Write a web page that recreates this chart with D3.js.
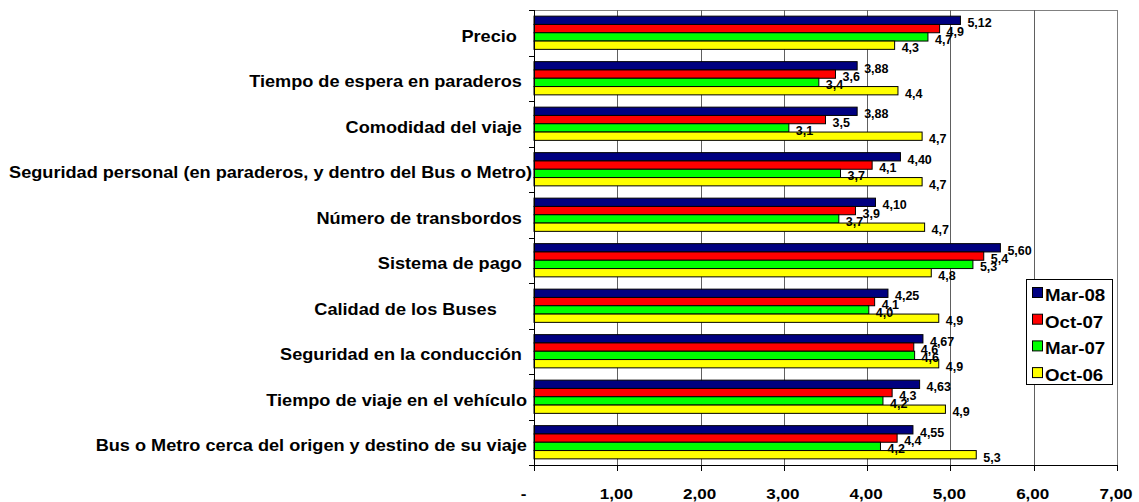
<html lang="es">
<head>
<meta charset="UTF-8">
<title>Evaluación</title>
<style>
  body { margin: 0; background: #fff; }
  text { font-family: "Liberation Sans", Arial, sans-serif; font-weight: bold; fill: #000; }
</style>
</head>
<body>
<svg id="svgId"></svg>
<script src="https://cdn.jsdelivr.net/npm/d3@7"></script>
<script>

    // Data (top category first)
    // trailing spaces are part of the original labels
    const categories = [
        'Precio   ',
        'Tiempo de espera en paraderos  ',
        'Comodidad del viaje  ',
        'Seguridad personal (en paraderos, y dentro del Bus o Metro)',
        'Número de transbordos  ',
        'Sistema de pago  ',
        'Calidad de los Buses       ',
        'Seguridad en la conducción  ',
        'Tiempo de viaje en el vehículo ',
        'Bus o Metro cerca del origen y destino de su viaje '
    ];
    const seriesNames = ['Mar-08', 'Oct-07', 'Mar-07', 'Oct-06'];
    const mar08 = [5.12, 3.88, 3.88, 4.40, 4.10, 5.60, 4.25, 4.67, 4.63, 4.55];
    const oct07 = [4.87, 3.62, 3.50, 4.06, 3.86, 5.40, 4.09, 4.56, 4.30, 4.36];
    const mar07 = [4.73, 3.42, 3.06, 3.68, 3.66, 5.27, 4.02, 4.57, 4.19, 4.16];
    const oct06 = [4.33, 4.37, 4.66, 4.66, 4.69, 4.77, 4.86, 4.86, 4.94, 5.31];
    const labelDecimals = [2, 1, 1, 1];
    const xTicks = [0, 1, 2, 3, 4, 5, 6, 7];

    const colormap = {'Mar-08': '#000080', 'Oct-07': '#ff0000', 'Mar-07': '#00ff00', 'Oct-06': '#ffff00'};
    const values = [mar08, oct07, mar07, oct06];

    const svgWidth = 1139, svgHeight = 502;
    const margin = {top: 10, right: 22, bottom: 37, left: 534};
    const width = svgWidth - margin.left - margin.right;
    const height = svgHeight - margin.top - margin.bottom;
    const stretch = 1.1;   // text in the picture is a bit wide

    const root = d3.select('#svgId')
        .attr('width', svgWidth)
        .attr('height', svgHeight);
    const svg = root.append('g')
        .attr('transform', `translate(${margin.left},${margin.top})`);

    const xScale = d3.scaleLinear().domain([0, 7]).range([0, width]);
    const yScale = d3.scaleBand().domain(d3.range(categories.length)).range([0, height])
        .paddingInner(0.27).paddingOuter(0.135);
    const ySeries = d3.scaleBand().domain(seriesNames).range([0, yScale.bandwidth()]);

    // frame (top and right) and gridlines
    svg.append('line')
        .attr('x1', 0).attr('x2', width).attr('y1', 0.5).attr('y2', 0.5)
        .attr('stroke', '#808080');
    svg.selectAll('.grid')
        .data(xTicks.filter(d => d > 0)).enter()
        .append('line')
        .attr('class', 'grid')
        .attr('x1', d => Math.round(xScale(d)) + 0.5)
        .attr('x2', d => Math.round(xScale(d)) + 0.5)
        .attr('y1', 0).attr('y2', height)
        .attr('stroke', d => d === 7 ? '#808080' : '#606060');

    // bars
    const rows = categories.map((c, i) => ({i: i, vals: seriesNames.map((s, k) => ({s: s, k: k, v: values[k][i]}))}));
    const group = svg.selectAll('.cat')
        .data(rows).enter()
        .append('g')
        .attr('class', 'cat')
        .attr('transform', d => `translate(0,${yScale(d.i)})`);

    group.selectAll('rect')
        .data(d => d.vals).enter()
        .append('rect')
        .attr('x', xScale(0))
        .attr('y', d => ySeries(d.s))
        .attr('width', d => xScale(d.v) - xScale(0))
        .attr('height', ySeries.bandwidth())
        .attr('fill', d => colormap[d.s])
        .attr('stroke', '#000')
        .attr('stroke-width', 1);

    group.selectAll('.val')
        .data(d => d.vals).enter()
        .append('text')
        .attr('class', 'val')
        .attr('x', d => xScale(d.v) + 7)
        .attr('y', d => ySeries(d.s) + ySeries.bandwidth() / 2 + 7)
        .style('font-size', '12.5px')
        .text(d => d.v.toFixed(labelDecimals[d.k]).replace('.', ','));

    // category axis
    svg.append('line')
        .attr('x1', 0.5).attr('x2', 0.5).attr('y1', 0).attr('y2', height + 6)
        .attr('stroke', '#000');
    svg.selectAll('.ytick')
        .data(d3.range(categories.length + 1)).enter()
        .append('line')
        .attr('x1', -5).attr('x2', 0)
        .attr('y1', d => Math.round(d * yScale.step()) + 0.5)
        .attr('y2', d => Math.round(d * yScale.step()) + 0.5)
        .attr('stroke', '#000');
    svg.selectAll('.cname')
        .data(categories).enter()
        .append('text')
        .attr('class', 'cname')
        .attr('text-anchor', 'end')
        .style('white-space', 'pre')
        .style('font-size', '16.5px')
        .attr('transform', (d, i) => `translate(-2,${i * yScale.step() + yScale.step() / 2 + 9}) scale(${stretch},1)`)
        .text(d => d);

    // value axis
    svg.append('line')
        .attr('x1', 0).attr('x2', width).attr('y1', height + 0.5).attr('y2', height + 0.5)
        .attr('stroke', '#000');
    svg.selectAll('.xtick')
        .data(xTicks).enter()
        .append('line')
        .attr('x1', d => Math.round(xScale(d)) + 0.5)
        .attr('x2', d => Math.round(xScale(d)) + 0.5)
        .attr('y1', height).attr('y2', height + 6)
        .attr('stroke', '#000');
    svg.selectAll('.xlab')
        .data(xTicks).enter()
        .append('text')
        .attr('class', 'xlab')
        .attr('text-anchor', 'middle')
        .style('white-space', 'pre')
        .style('font-size', '15.5px')
        .attr('transform', d => `translate(${xScale(d) - 1},${height + 34}) scale(${stretch},1)`)
        .text(d => d === 0 ? '-    ' : d.toFixed(2).replace('.', ','));

    // legend
    const legend = root.append('g')
        .attr('transform', 'translate(1026,279)');
    legend.append('rect')
        .attr('x', 0.5).attr('y', 0.5)
        .attr('width', 86).attr('height', 105)
        .attr('fill', '#fff')
        .attr('stroke', '#000');
    const item = legend.selectAll('.item')
        .data(seriesNames).enter()
        .append('g')
        .attr('class', 'item')
        .attr('transform', (d, i) => `translate(0,${14 + i * 26.7})`);
    item.append('rect')
        .attr('x', 6.5).attr('y', -5.5)
        .attr('width', 10).attr('height', 10)
        .attr('fill', d => colormap[d])
        .attr('stroke', '#000');
    item.append('text')
        .style('font-size', '17px')
        .attr('transform', `translate(19,8) scale(${stretch},1)`)
        .text(d => d);

</script>
</body>
</html>
